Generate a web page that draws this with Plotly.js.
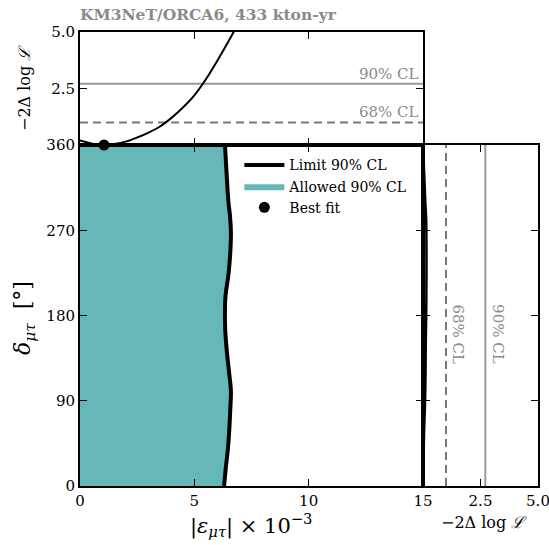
<!DOCTYPE html>
<html>
<head>
<meta charset="utf-8">
<script src="https://cdn.plot.ly/plotly-3.0.1.min.js"></script>
<style>html,body{margin:0;padding:0;background:#fff;}#plot{width:549px;height:545px;}</style>
</head>
<body>
<div id="plot"></div>
<script>
// 90% CL contour: |eps| (x1e-3) as a function of delta (deg)
const contourDelta = [0, 20, 40, 60, 80, 100, 120, 140, 165, 186, 200, 225, 250, 267, 285, 300, 330, 360];
const contourEps   = [6.30, 6.38, 6.47, 6.53, 6.57, 6.60, 6.52, 6.43, 6.35, 6.34, 6.36, 6.50, 6.58, 6.60, 6.56, 6.49, 6.41, 6.34];

// profile likelihood vs |eps|
const profEps  = [0, 0.5, 1.0, 1.5, 2.0, 2.5, 3.0, 3.5, 4.0, 4.5, 5.0, 5.5, 6.0, 6.5, 6.8];
const profEpsL = [0.2, 0.07, 0.0, 0.05, 0.15, 0.33, 0.55, 0.82, 1.2, 1.66, 2.2, 2.9, 3.72, 4.6, 5.15];

// profile likelihood vs delta
const profDelta  = [360, 330, 300, 280, 250, 220, 180, 150, 120, 90, 60, 30, 0];
const profDeltaL = [0, 0.05, 0.1, 0.14, 0.15, 0.15, 0.14, 0.12, 0.11, 0.09, 0.05, 0.02, 0];

// best fit
const bestEps = [1.05];
const bestDelta = [360];

// CL thresholds
const cl68 = 1.0;
const cl90 = 2.71;

// tick labels
const mainXTicks = [0, 5, 10, 15];
const mainYTicks = [0, 90, 180, 270, 360];
const llhTicks = [2.5, 5];
const llhTickText = ['2.5', '5.0'];

const gray = '#8a8a8a';
const serif = 'DejaVu Serif, Liberation Serif, serif';

const traces = [
  {x: contourEps, y: contourDelta, xaxis: 'x', yaxis: 'y', type: 'scatter', mode: 'lines',
   fill: 'tozerox', fillcolor: '#66b8b8', line: {width: 0, color: '#66b8b8'},
   name: 'Allowed 90% CL', legendrank: 2, hoverinfo: 'skip'},
  {x: contourEps, y: contourDelta, xaxis: 'x', yaxis: 'y', type: 'scatter', mode: 'lines',
   line: {width: 4, color: '#000', shape: 'spline'}, name: 'Limit 90% CL', legendrank: 1},
  {x: bestEps, y: bestDelta, xaxis: 'x', yaxis: 'y', type: 'scatter', mode: 'markers',
   marker: {size: 11, color: '#000'}, cliponaxis: false, name: 'Best fit', legendrank: 3},
  // top panel
  {x: [0, 15], y: [cl90, cl90], xaxis: 'x2', yaxis: 'y2', mode: 'lines',
   line: {color: '#999', width: 2}, showlegend: false},
  {x: [0, 15], y: [cl68, cl68], xaxis: 'x2', yaxis: 'y2', mode: 'lines',
   line: {color: '#777', width: 2, dash: '8px,5px'}, showlegend: false},
  {x: profEps, y: profEpsL, xaxis: 'x2', yaxis: 'y2', mode: 'lines',
   line: {color: '#000', width: 2, shape: 'spline'}, showlegend: false},
  // right panel
  {x: [cl90, cl90], y: [0, 360], xaxis: 'x3', yaxis: 'y3', mode: 'lines',
   line: {color: '#999', width: 2}, showlegend: false},
  {x: [cl68, cl68], y: [0, 360], xaxis: 'x3', yaxis: 'y3', mode: 'lines',
   line: {color: '#777', width: 2, dash: '8px,5px'}, showlegend: false},
  {x: profDeltaL, y: profDelta, xaxis: 'x3', yaxis: 'y3', mode: 'lines',
   line: {color: '#000', width: 2.5, shape: 'spline'}, showlegend: false}
];

const W = 549, H = 545;
const xL = 80 / W, xM = 423 / W, xR = 538 / W;
const yB = 1 - 486 / H, yM = 1 - 145 / H, yT = 1 - 32 / H;

const ax = {
  showline: true, linewidth: 2, linecolor: '#000', mirror: 'ticks',
  ticks: 'inside', ticklen: 7, tickwidth: 1, tickcolor: '#000',
  showgrid: false, zeroline: false, ticklabeloverflow: 'allow',
  tickfont: {family: serif, size: 15, color: '#000'}
};

const layout = {
  width: W, height: H,
  margin: {l: 0, r: 0, t: 0, b: 0},
  paper_bgcolor: '#fff', plot_bgcolor: 'rgba(0,0,0,0)',
  showlegend: true,
  legend: {x: 0.436, y: 0.726, xanchor: 'left', yanchor: 'top',
           bgcolor: 'rgba(0,0,0,0)', font: {family: serif, size: 14, color: '#000'},
           tracegroupgap: 0, itemwidth: 40},
  xaxis: Object.assign({}, ax, {domain: [xL, xM], range: [0, 15], anchor: 'y',
    tickvals: mainXTicks}),
  yaxis: Object.assign({}, ax, {domain: [yB, yM], range: [0, 360], anchor: 'x',
    tickvals: mainYTicks}),
  xaxis2: Object.assign({}, ax, {domain: [xL, xM], range: [0, 15], anchor: 'y2',
    tickvals: mainXTicks, showticklabels: false}),
  yaxis2: Object.assign({}, ax, {domain: [yM, yT], range: [0, 5], anchor: 'x2',
    tickvals: llhTicks, ticktext: llhTickText}),
  xaxis3: Object.assign({}, ax, {domain: [xM, xR], range: [0, 5], anchor: 'y3',
    tickvals: llhTicks, ticktext: llhTickText}),
  yaxis3: Object.assign({}, ax, {domain: [yB, yM], range: [0, 360], anchor: 'x3',
    tickvals: mainYTicks, showticklabels: false}),
  annotations: [
    {xref: 'paper', yref: 'paper', x: 78 / W, y: 1 - 3 / H, xanchor: 'left', yanchor: 'top',
     text: '<b>KM3NeT/ORCA6, 433 kton-yr</b>', showarrow: false,
     font: {family: serif, size: 15.5, color: gray}},
    {xref: 'x2', yref: 'y2', x: 14.9, y: cl90, xanchor: 'right', yanchor: 'bottom', yshift: -1,
     text: '90% CL', showarrow: false, font: {family: serif, size: 15, color: gray}},
    {xref: 'x2', yref: 'y2', x: 14.9, y: cl68, xanchor: 'right', yanchor: 'bottom', yshift: -1,
     text: '68% CL', showarrow: false, font: {family: serif, size: 15, color: gray}},
    {xref: 'x3', yref: 'y3', x: cl68, y: 160, xanchor: 'left', yanchor: 'middle', xshift: 1,
     text: '68% CL', textangle: 90, showarrow: false, font: {family: serif, size: 15, color: gray}},
    {xref: 'x3', yref: 'y3', x: cl90, y: 160, xanchor: 'left', yanchor: 'middle', xshift: 1,
     text: '90% CL', textangle: 90, showarrow: false, font: {family: serif, size: 15, color: gray}},
    // axis titles
    {xref: 'paper', yref: 'paper', x: 251 / W, y: 1 - 525 / H, xanchor: 'center', yanchor: 'middle',
     text: '|<i>ε</i><sub><i>μτ</i></sub>| × 10<sup>−3</sup>', showarrow: false,
     font: {family: serif, size: 21, color: '#000'}},
    {xref: 'paper', yref: 'paper', x: 484 / W, y: 1 - 522 / H, xanchor: 'center', yanchor: 'middle',
     text: '−2Δ log <i>ℒ</i>', showarrow: false,
     font: {family: serif, size: 16, color: '#000'}},
    {xref: 'paper', yref: 'paper', x: 24 / W, y: 1 - 318 / H, xanchor: 'center', yanchor: 'middle',
     text: '<i>δ</i><sub><i>μτ</i></sub>  [°]', textangle: -90, showarrow: false,
     font: {family: serif, size: 22, color: '#000'}},
    {xref: 'paper', yref: 'paper', x: 24 / W, y: 1 - 88 / H, xanchor: 'center', yanchor: 'middle',
     text: '−2Δ log <i>ℒ</i>', textangle: -90, showarrow: false,
     font: {family: serif, size: 16, color: '#000'}}
  ]
};

Plotly.newPlot('plot', traces, layout, {displayModeBar: false, staticPlot: true});
</script>
</body>
</html>
